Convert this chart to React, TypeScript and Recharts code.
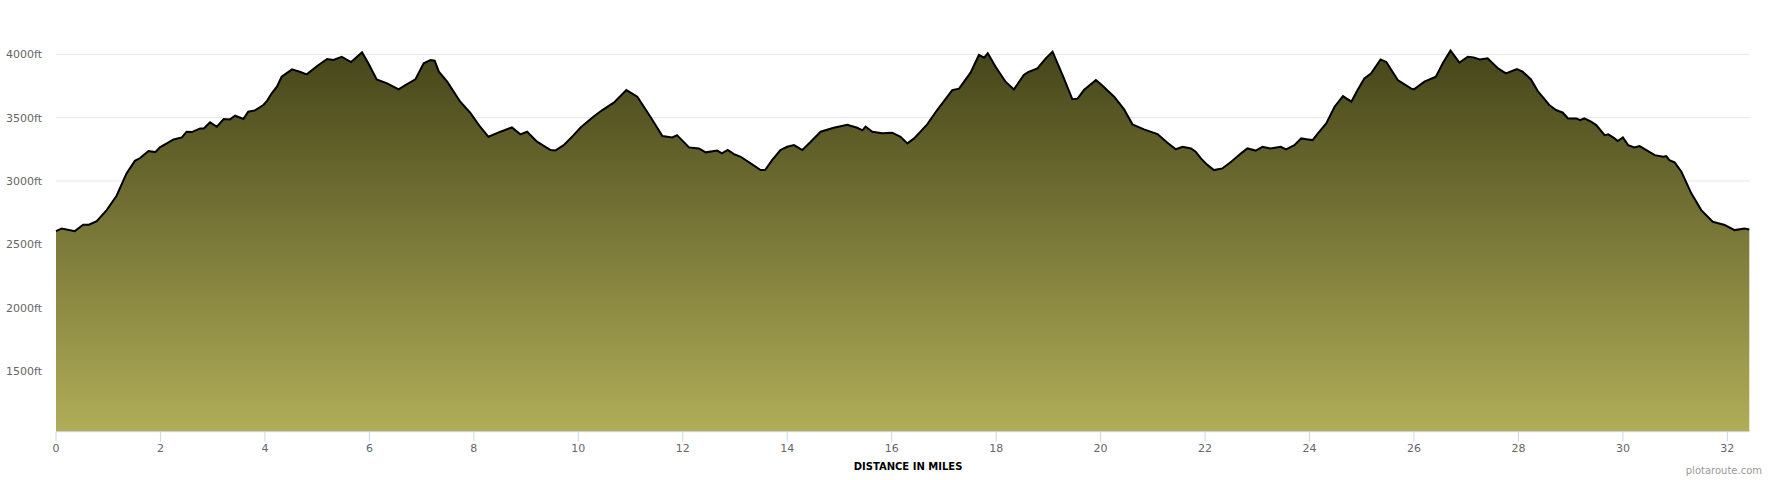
import { AreaChart, Area, XAxis, YAxis, CartesianGrid } from 'recharts'

const miles = [
  0, 0.11, 0.36, 0.52, 0.63, 0.78, 0.97, 1.16, 1.35, 1.51, 1.61, 1.77, 1.9, 1.99, 2.12, 2.25, 2.41, 2.5, 2.6, 2.76,
  2.83, 2.95, 3.08, 3.21, 3.33, 3.43, 3.59, 3.68, 3.81, 3.97, 4.04, 4.13, 4.23, 4.32, 4.52, 4.68, 4.8, 5.0, 5.19, 5.31,
  5.47, 5.65, 5.86, 5.98, 6.14, 6.34, 6.56, 6.69, 6.88, 7.04, 7.17, 7.25, 7.33, 7.49, 7.74, 7.93, 8.12, 8.28, 8.51, 8.73,
  8.89, 9.02, 9.21, 9.37, 9.47, 9.56, 9.72, 9.91, 10.04, 10.14, 10.3, 10.46, 10.68, 10.92, 11.13, 11.38, 11.61, 11.8, 11.89, 12.12,
  12.31, 12.44, 12.66, 12.75, 12.86, 12.98, 13.11, 13.3, 13.49, 13.58, 13.71, 13.87, 14.0, 14.13, 14.29, 14.45, 14.64, 14.89, 15.15, 15.34,
  15.44, 15.5, 15.63, 15.82, 16.01, 16.17, 16.3, 16.43, 16.68, 16.87, 17.16, 17.29, 17.51, 17.67, 17.77, 17.84, 17.99, 18.18, 18.34, 18.53,
  18.61, 18.79, 18.95, 19.08, 19.27, 19.46, 19.56, 19.68, 19.91, 19.99, 20.26, 20.45, 20.61, 20.83, 21.09, 21.28, 21.44, 21.57, 21.73, 21.82,
  21.92, 22.05, 22.17, 22.33, 22.5, 22.69, 22.81, 22.97, 23.1, 23.25, 23.45, 23.55, 23.71, 23.84, 23.97, 24.06, 24.16, 24.32, 24.48, 24.64,
  24.8, 24.92, 25.05, 25.18, 25.36, 25.47, 25.69, 25.94, 26.0, 26.2, 26.42, 26.55, 26.7, 26.87, 27.03, 27.14, 27.26, 27.41, 27.61, 27.76,
  27.97, 28.08, 28.24, 28.37, 28.59, 28.72, 28.85, 28.95, 29.11, 29.18, 29.26, 29.39, 29.49, 29.65, 29.72, 29.84, 29.9, 30.0, 30.1, 30.22,
  30.32, 30.45, 30.61, 30.77, 30.83, 30.89, 30.99, 31.12, 31.31, 31.5, 31.72, 31.95, 32.14, 32.33, 32.42,
]

const elevation = [
  2604, 2625, 2604, 2654, 2654, 2683, 2770, 2883, 3060, 3159, 3181, 3236, 3228, 3265, 3297, 3328, 3344, 3389, 3386, 3415,
  3415, 3463, 3428, 3489, 3486, 3515, 3490, 3547, 3557, 3600, 3633, 3692, 3744, 3823, 3881, 3860, 3842, 3908, 3963, 3955,
  3981, 3939, 4016, 3929, 3802, 3771, 3723, 3757, 3802, 3929, 3955, 3950, 3863, 3784, 3626, 3539, 3428, 3349, 3389, 3423,
  3368, 3389, 3310, 3270, 3244, 3240, 3283, 3362, 3420, 3455, 3511, 3560, 3618, 3718, 3665, 3507, 3355, 3344, 3362, 3265,
  3257, 3226, 3240, 3218, 3245, 3212, 3191, 3139, 3086, 3088, 3165, 3244, 3270, 3283, 3244, 3310, 3389, 3420, 3444, 3420,
  3400, 3430, 3389, 3376, 3381, 3349, 3297, 3336, 3447, 3560, 3718, 3729, 3855, 3995, 3973, 4008, 3902, 3784, 3723, 3837,
  3860, 3889, 3968, 4021, 3837, 3645, 3650, 3718, 3797, 3770, 3665, 3565, 3447, 3407, 3370, 3302, 3250, 3270, 3257, 3231,
  3178, 3125, 3086, 3099, 3152, 3218, 3257, 3240, 3270, 3257, 3270, 3250, 3283, 3336, 3328, 3323, 3376, 3455, 3586, 3670,
  3626, 3718, 3810, 3850, 3960, 3940, 3797, 3731, 3723, 3784, 3823, 3929, 4029, 3934, 3981, 3976, 3960, 3968, 3889, 3850,
  3884, 3863, 3802, 3710, 3600, 3560, 3539, 3494, 3494, 3480, 3494, 3468, 3441, 3362, 3368, 3336, 3315, 3344, 3283, 3265,
  3275, 3244, 3204, 3191, 3196, 3165, 3147, 3073, 2902, 2770, 2678, 2652, 2612, 2625, 2617,
]

const xTicks = [0, 2, 4, 6, 8, 10, 12, 14, 16, 18, 20, 22, 24, 26, 28, 30, 32]
const yTicks = [1500, 2000, 2500, 3000, 3500, 4000]

const data = miles.map((m, i) => ({ mile: m, elev: elevation[i] }))

const font = '"DejaVu Sans", Verdana, sans-serif'

export default function App() {
  return (
    <div style={{ position: 'absolute', left: 0, top: 0, width: 1770, height: 480, background: '#fff', fontFamily: font }}>
      <AreaChart width={1770} height={480} data={data} margin={{ top: 29, right: 20.7, bottom: 18.3, left: 0 }}>
        <defs>
          <linearGradient id="elevFill" x1="0" y1="0" x2="0" y2="1">
            <stop offset="0%" stopColor="#46451a" />
            <stop offset="100%" stopColor="#b0ae58" />
          </linearGradient>
        </defs>
        <CartesianGrid horizontal vertical={false} horizontalValues={yTicks} stroke="#e6e6e6" />
        <XAxis
          dataKey="mile"
          type="number"
          domain={[0, 32.42]}
          ticks={xTicks}
          height={30}
          tickSize={10}
          tickMargin={2}
          stroke="#ccd6eb"
          tick={{ fill: '#666', fontSize: 11, fontFamily: font }}
        />
        <YAxis
          type="number"
          domain={[1020, 4200]}
          ticks={yTicks}
          width={56}
          axisLine={false}
          tickLine={false}
          tickMargin={8}
          tickFormatter={(v: number) => `${v}ft`}
          tick={{ fill: '#666', fontSize: 11, fontFamily: font }}
        />
        <Area
          type="linear"
          dataKey="elev"
          stroke="#000"
          strokeWidth={2}
          fill="url(#elevFill)"
          fillOpacity={1}
          isAnimationActive={false}
          dot={false}
          activeDot={false}
        />
      </AreaChart>
      <div
        style={{
          position: 'absolute', left: 808, width: 200, top: 462, textAlign: 'center',
          fontSize: 10, lineHeight: '10px', fontWeight: 'bold', color: '#000',
        }}
      >
        DISTANCE IN MILES
      </div>
      <div
        style={{
          position: 'absolute', right: 8, top: 466, fontSize: 10, lineHeight: '10px', color: '#999',
        }}
      >
        plotaroute.com
      </div>
    </div>
  )
}
